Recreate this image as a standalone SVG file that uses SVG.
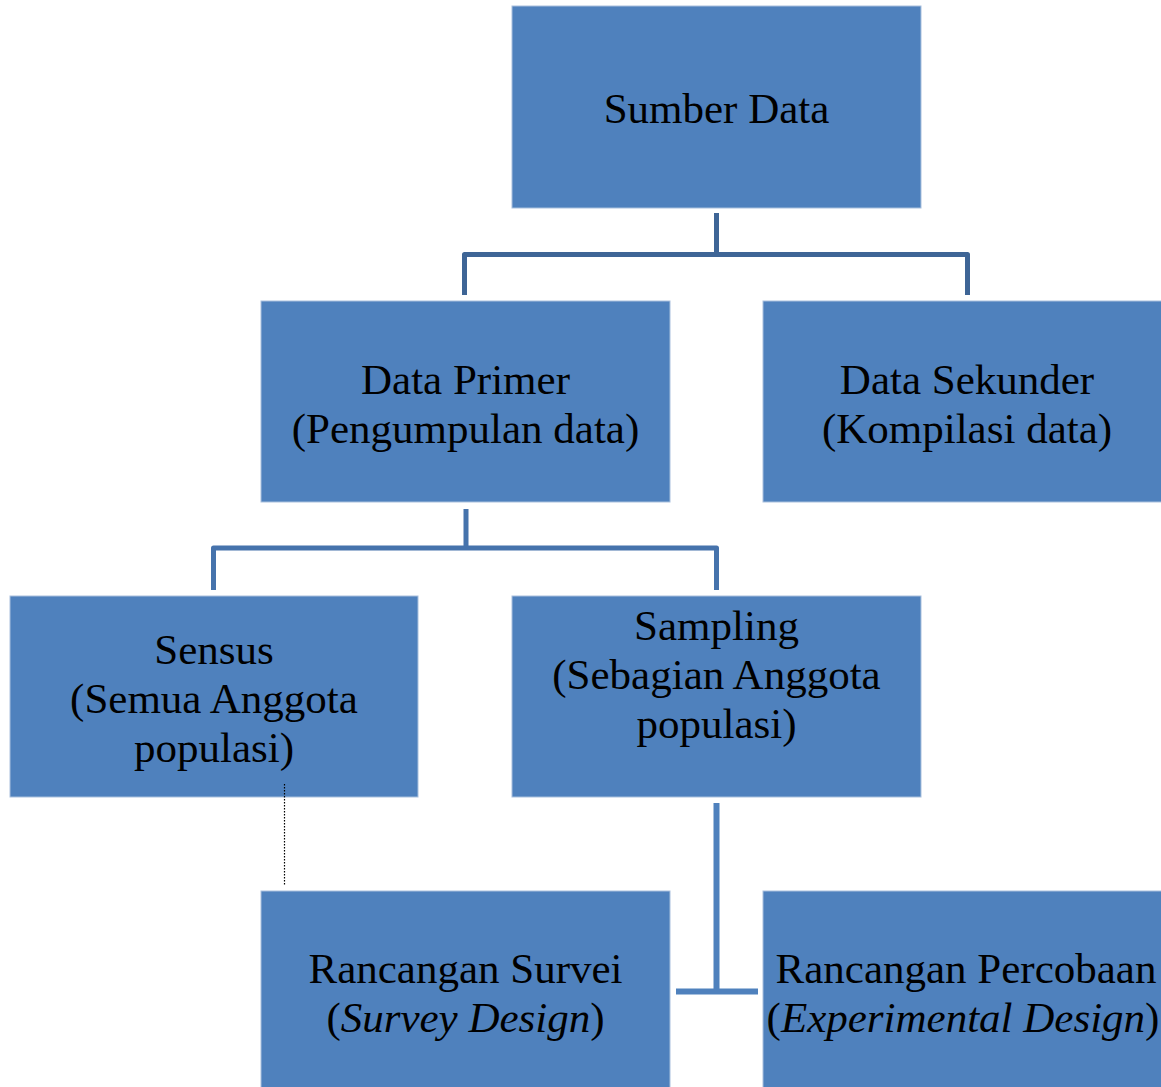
<svg xmlns="http://www.w3.org/2000/svg" width="1161" height="1087" viewBox="0 0 1161 1087">
<style>
.box{fill:#4F81BD;stroke:#A9C0DD;stroke-width:1}
.t{font-family:"Liberation Serif","Times New Roman",serif;font-size:43px;fill:#000;text-anchor:middle}
.c1{fill:none;stroke:#3E6596;stroke-width:5;stroke-linejoin:round}
.c2{fill:none;stroke:#4673AC;stroke-width:5;stroke-linejoin:round}
.c3{fill:none;stroke:#4F81BD;stroke-width:6}
.dot{fill:none;stroke:#000;stroke-width:1.2;stroke-dasharray:1.5 1.5}
</style>
<rect width="1161" height="1087" fill="#fff"/>
<g id="sumber-data">
<rect class="box" x="512" y="6" width="409" height="202"/>
<text class="t" x="716.5" y="123">Sumber Data</text>
</g>
<g id="data-primer">
<rect class="box" x="261" y="301" width="409" height="201"/>
<text class="t" x="465.5" y="394">Data Primer</text>
<text class="t" x="465.5" y="443">(Pengumpulan data)</text>
</g>
<g id="data-sekunder">
<rect class="box" x="763" y="301" width="409" height="201"/>
<text class="t" x="967" y="394">Data Sekunder</text>
<text class="t" x="967" y="443">(Kompilasi data)</text>
</g>
<g id="sensus">
<rect class="box" x="10" y="596" width="408" height="201"/>
<text class="t" x="214" y="664">Sensus</text>
<text class="t" x="214" y="713">(Semua Anggota</text>
<text class="t" x="214" y="762">populasi)</text>
</g>
<g id="sampling">
<rect class="box" x="512" y="596" width="409" height="201"/>
<text class="t" x="716.5" y="640">Sampling</text>
<text class="t" x="716.5" y="689">(Sebagian Anggota</text>
<text class="t" x="716.5" y="738">populasi)</text>
</g>
<g id="rancangan-survei">
<rect class="box" x="261" y="891" width="409" height="200"/>
<text class="t" x="465.5" y="983">Rancangan Survei</text>
<text class="t" x="465.5" y="1032">(<tspan font-style="italic">Survey Design</tspan>)</text>
</g>
<g id="rancangan-percobaan">
<rect class="box" x="763" y="891" width="409" height="200"/>
<text class="t" x="966" y="983">Rancangan Percobaan</text>
<text class="t" x="963" y="1032">(<tspan font-style="italic">Experimental Design</tspan>)</text>
</g>
<g id="connectors">
<path class="c1" d="M716.5 213 V254.5 M464.5 295 V254.5 H967.5 V295"/>
<path class="c2" d="M466 509 V548 M213.5 590 V548 H716.5 V590"/>
<path class="c3" d="M716.5 803 V993 M676 991.5 H758"/>
<path class="dot" d="M284.5 784 V885"/>
</g>
</svg>
